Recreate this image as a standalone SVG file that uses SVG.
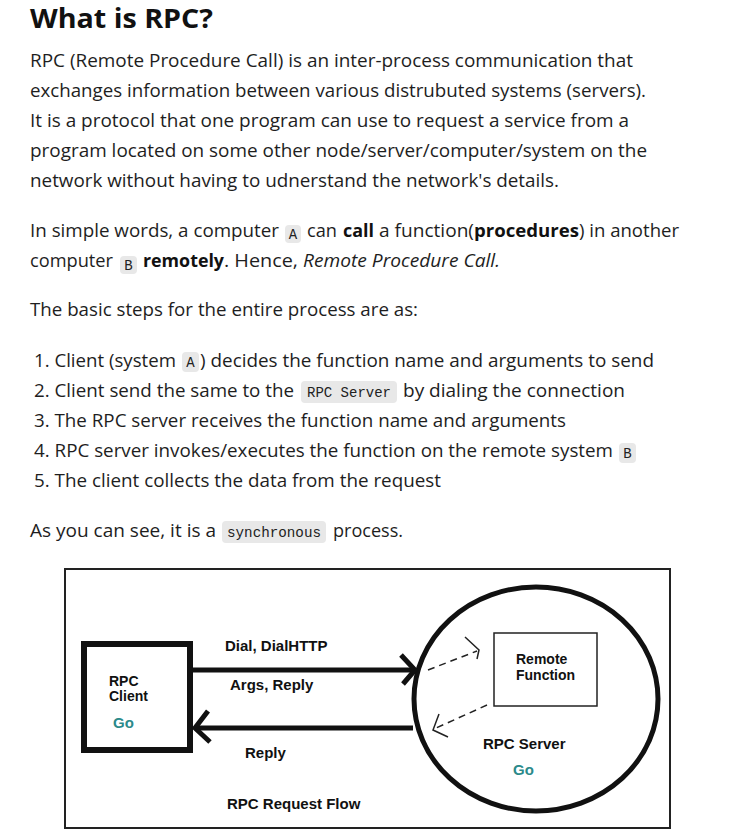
<svg xmlns="http://www.w3.org/2000/svg" width="730" height="840" viewBox="0 0 730 840">
<style>
  .t { font-family: "Open Sans", "Noto Sans", sans-serif; font-size: 18px; fill: #1e1e1e; }
  .b { font-weight: 700; fill: #111; }
  .i { font-style: italic; }
  .h1 { font-family: "Open Sans", "Noto Sans", sans-serif; font-size: 26px; font-weight: 700; fill: #111; }
  .badge { fill: #e8e8e8; }
  .code { font-family: "Liberation Mono", "DejaVu Sans Mono", monospace; font-size: 14px; fill: #222; }
  .d { font-family: "Liberation Sans", Arial, sans-serif; font-size: 15px; font-weight: 700; fill: #111; }
  .ds { font-size: 14px; }
  .go { fill: #2b8a8a; }
  .thick { fill: none; stroke: #111; stroke-width: 5; }
  .dash { fill: none; stroke: #222; stroke-width: 1.5; stroke-dasharray: 7 5; }
  .head { fill: none; stroke: #222; stroke-width: 1.5; }
</style>
<rect width="730" height="840" fill="#ffffff"/>

<text class="h1" x="30" y="28" textLength="183" lengthAdjust="spacingAndGlyphs">What is RPC?</text>

<text class="t" x="30" y="67" textLength="603" lengthAdjust="spacingAndGlyphs">RPC (Remote Procedure Call) is an inter-process communication that</text>
<text class="t" x="30" y="97" textLength="616" lengthAdjust="spacingAndGlyphs">exchanges information between various distrubuted systems (servers).</text>
<text class="t" x="30" y="127" textLength="599" lengthAdjust="spacingAndGlyphs">It is a protocol that one program can use to request a service from a</text>
<text class="t" x="30" y="157" textLength="617" lengthAdjust="spacingAndGlyphs">program located on some other node/server/computer/system on the</text>
<text class="t" x="30" y="187" textLength="529" lengthAdjust="spacingAndGlyphs">network without having to udnerstand the network's details.</text>

<!-- paragraph 2 -->
<text class="t" x="30" y="237" textLength="249" lengthAdjust="spacingAndGlyphs">In simple words, a computer</text>
<rect class="badge" x="285" y="225" width="16" height="18" rx="4"/>
<text class="code" x="293" y="239" text-anchor="middle">A</text>
<text class="t" x="307" y="237" textLength="30" lengthAdjust="spacingAndGlyphs">can</text>
<text class="t b" x="343" y="237" textLength="31" lengthAdjust="spacingAndGlyphs">call</text>
<text class="t" x="379" y="237" textLength="95" lengthAdjust="spacingAndGlyphs">a function(</text>
<text class="t b" x="474" y="237" textLength="105" lengthAdjust="spacingAndGlyphs">procedures</text>
<text class="t" x="579" y="237" textLength="100" lengthAdjust="spacingAndGlyphs">) in another</text>

<text class="t" x="30" y="267" textLength="83" lengthAdjust="spacingAndGlyphs">computer</text>
<rect class="badge" x="120" y="256" width="17" height="18" rx="4"/>
<text class="code" x="128.5" y="270" text-anchor="middle">B</text>
<text class="t b" x="143" y="267" textLength="81" lengthAdjust="spacingAndGlyphs">remotely</text>
<text class="t" x="224" y="267" textLength="74" lengthAdjust="spacingAndGlyphs">. Hence,</text>
<text class="t i" x="303" y="267" textLength="197" lengthAdjust="spacingAndGlyphs">Remote Procedure Call.</text>

<text class="t" x="30" y="316" textLength="388" lengthAdjust="spacingAndGlyphs">The basic steps for the entire process are as:</text>

<!-- list -->
<text class="t" x="34" y="367" textLength="142" lengthAdjust="spacingAndGlyphs">1. Client (system</text>
<rect class="badge" x="182" y="352" width="17" height="20" rx="4"/>
<text class="code" x="190.5" y="367" text-anchor="middle">A</text>
<text class="t" x="200" y="367" textLength="454" lengthAdjust="spacingAndGlyphs">) decides the function name and arguments to send</text>

<text class="t" x="34" y="397" textLength="260" lengthAdjust="spacingAndGlyphs">2. Client send the same to the</text>
<rect class="badge" x="301" y="381" width="96" height="22" rx="4"/>
<text class="code" x="307" y="397">RPC Server</text>
<text class="t" x="403" y="397" textLength="222" lengthAdjust="spacingAndGlyphs">by dialing the connection</text>

<text class="t" x="34" y="427" textLength="532" lengthAdjust="spacingAndGlyphs">3. The RPC server receives the function name and arguments</text>

<text class="t" x="34" y="457" textLength="579" lengthAdjust="spacingAndGlyphs">4. RPC server invokes/executes the function on the remote system</text>
<rect class="badge" x="619" y="443" width="17" height="20" rx="4"/>
<text class="code" x="627.5" y="458" text-anchor="middle">B</text>

<text class="t" x="34" y="487" textLength="407" lengthAdjust="spacingAndGlyphs">5. The client collects the data from the request</text>

<text class="t" x="30" y="537" textLength="186" lengthAdjust="spacingAndGlyphs">As you can see, it is a</text>
<rect class="badge" x="222" y="521" width="104" height="22" rx="4"/>
<text class="code" x="227" y="537" textLength="94" lengthAdjust="spacingAndGlyphs">synchronous</text>
<text class="t" x="333" y="537" textLength="70" lengthAdjust="spacingAndGlyphs">process.</text>

<!-- diagram -->
<g id="frame">
  <rect x="65" y="569" width="605" height="259" fill="#ffffff" stroke="#222" stroke-width="2"/>
</g>

<g id="rpc-client">
  <rect x="84" y="644" width="106" height="106" fill="#ffffff" stroke="#111" stroke-width="6"/>
  <text class="d ds" x="109" y="686">RPC</text>
  <text class="d ds" x="109" y="701">Client</text>
  <text class="d go" x="113" y="728">Go</text>
</g>

<g id="rpc-server">
  <ellipse cx="536" cy="699" rx="122" ry="112" fill="#ffffff" stroke="#111" stroke-width="5"/>
  <text class="d" x="483" y="749">RPC Server</text>
  <text class="d go" x="513" y="775">Go</text>
</g>

<g id="remote-function">
  <rect x="494" y="633" width="103" height="73" fill="#ffffff" stroke="#222" stroke-width="1.5"/>
  <text class="d ds" x="516" y="664">Remote</text>
  <text class="d ds" x="516" y="680">Function</text>
</g>

<g id="connectors">
  <line class="thick" x1="190" y1="670" x2="413" y2="670"/>
  <polyline class="thick" points="401,655 415,670 403,684"/>
  <line class="thick" x1="196" y1="728" x2="413" y2="728"/>
  <polyline class="thick" points="208,711 195,728 210,742"/>
  <line class="dash" x1="428" y1="670" x2="477" y2="651"/>
  <polyline class="head" points="465,637 479,650 477,659"/>
  <line class="dash" x1="487" y1="705" x2="434" y2="729"/>
  <polyline class="head" points="439,714 433,730 448,737"/>
</g>

<g id="labels">
  <text class="d" x="225" y="651">Dial, DialHTTP</text>
  <text class="d" x="230" y="690">Args, Reply</text>
  <text class="d" x="245" y="758">Reply</text>
  <text class="d" x="227" y="809">RPC Request Flow</text>
</g>
</svg>
